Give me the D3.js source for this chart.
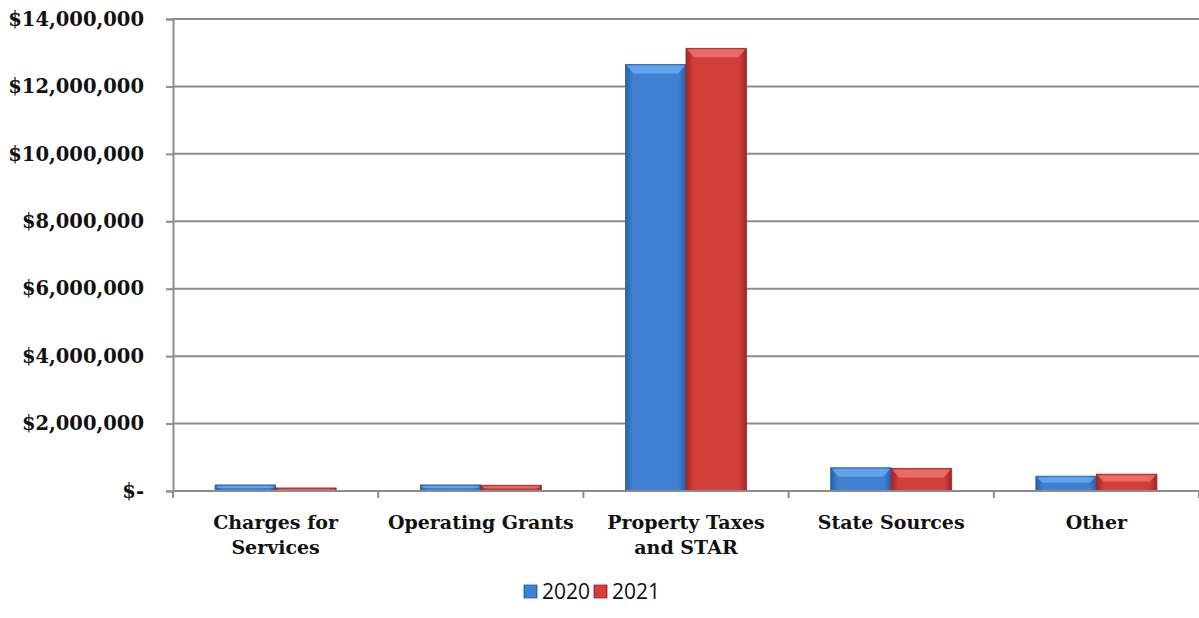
<!DOCTYPE html>
<html>
<head>
<meta charset="utf-8">
<script src="https://cdn.jsdelivr.net/npm/d3@7"></script>
<style>
  body { margin: 0; background: #fff; }
  .y-axis text { font-family: "DejaVu Serif", serif; font-weight: bold; font-size: 19.5px; fill: #111; }
  .cat-label { font-family: "DejaVu Serif", serif; font-weight: bold; font-size: 19px; fill: #111; }
  .legend text { font-family: "Open Sans", sans-serif; font-size: 21px; fill: #111; }
</style>
</head>
<body>
<div id="chart-area"></div>
<script>
var categories = ["Charges for|Services", "Operating Grants", "Property Taxes|and STAR", "State Sources", "Other"];
var seriesNames = ["2020", "2021"];
var values2020 = [180000, 180000, 12650000, 690000, 440000];
var values2021 = [90000, 170000, 13130000, 670000, 500000];
var yTicks = [0, 2000000, 4000000, 6000000, 8000000, 10000000, 12000000, 14000000];

var W = 1199, H = 618;
var margin = { left: 173, right: 0, top: 19, bottom: 127 };
var width = W - margin.left - margin.right;
var height = H - margin.top - margin.bottom;

var colors = {
    "2020": { base: "#3f80d2", dark: "#2a5fa8", light: "#6fb0f0" },
    "2021": { base: "#d23e3a", dark: "#9e2623", light: "#f07a76" }
};

var svg = d3.select("#chart-area").append("svg")
    .attr("width", W)
    .attr("height", H);

var defs = svg.append("defs");
seriesNames.forEach(function (s) {
    var c = colors[s];
    var gr = defs.append("linearGradient")
        .attr("id", "grad" + s)
        .attr("x1", "0%").attr("x2", "100%").attr("y1", "0%").attr("y2", "0%");
    gr.append("stop").attr("offset", "0%").attr("stop-color", c.dark);
    gr.append("stop").attr("offset", "12%").attr("stop-color", c.base);
    gr.append("stop").attr("offset", "88%").attr("stop-color", c.base);
    gr.append("stop").attr("offset", "100%").attr("stop-color", c.dark);
});

var g = svg.append("g")
    .attr("transform", "translate(" + margin.left + ", " + margin.top + ")");

var y = d3.scaleLinear()
    .domain([0, 14000000])
    .range([height, 0]);

var x = d3.scaleBand()
    .domain(categories)
    .range([0, width]);

var xs = d3.scaleBand()
    .domain(seriesNames)
    .range([0, x.bandwidth() * 0.59])
    .padding(0);

// gridlines
g.append("g")
    .selectAll("line")
    .data(yTicks.slice(1))
    .enter().append("line")
    .attr("x1", 0).attr("x2", width)
    .attr("y1", function (d) { return y(d); })
    .attr("y2", function (d) { return y(d); })
    .attr("stroke", "#8c8c8c")
    .attr("stroke-width", 2);

// y axis
var yAxis = d3.axisLeft(y)
    .tickValues(yTicks)
    .tickSize(7)
    .tickPadding(22)
    .tickFormat(function (d) { return d === 0 ? "$-" : "$" + d3.format(",")(d); });
var yaxg = g.append("g").attr("class", "y-axis").call(yAxis);
yaxg.select(".domain").attr("stroke", "#8c8c8c").attr("stroke-width", 2);
yaxg.selectAll(".tick line").attr("stroke", "#8c8c8c").attr("stroke-width", 2);

// bars
var rows = categories.map(function (c, i) {
    return { cat: c, vals: [
        { s: "2020", v: values2020[i] },
        { s: "2021", v: values2021[i] }
    ] };
});

var groups = g.selectAll(".grp").data(rows).enter().append("g")
    .attr("class", "grp")
    .attr("transform", function (d) {
        return "translate(" + (x(d.cat) + x.bandwidth() * 0.205) + ",0)";
    });

var bars = groups.selectAll(".bar").data(function (d) { return d.vals; }).enter().append("g")
    .attr("class", "bar");

bars.append("rect")
    .attr("x", function (d) { return xs(d.s); })
    .attr("y", function (d) { return y(d.v); })
    .attr("width", xs.bandwidth())
    .attr("height", function (d) { return height - y(d.v); })
    .attr("fill", function (d) { return "url(#grad" + d.s + ")"; })
    .attr("stroke", function (d) { return colors[d.s].dark; })
    .attr("stroke-width", 0.8);

// top bevel highlight
bars.append("path")
    .attr("d", function (d) {
        var x0 = xs(d.s), x1 = x0 + xs.bandwidth();
        var top = y(d.v) + 1;
        var h = Math.min(8, (height - top) * 0.4);
        var inset = Math.min(7, h);
        return "M" + (x0 + 1) + "," + top + "L" + (x1 - 1) + "," + top +
            "L" + (x1 - 1 - inset) + "," + (top + h) + "L" + (x0 + 1 + inset) + "," + (top + h) + "Z";
    })
    .attr("fill", function (d) { return colors[d.s].light; })
    .attr("opacity", 0.75);

// x axis
var xaxg = g.append("g").attr("transform", "translate(0," + height + ")");
xaxg.append("line")
    .attr("x1", 0).attr("x2", width)
    .attr("stroke", "#8c8c8c").attr("stroke-width", 2);
var ticksX = categories.map(function (c) { return x(c); }).concat([width]);
xaxg.selectAll(".xt").data(ticksX).enter().append("line")
    .attr("class", "xt")
    .attr("x1", function (d) { return d; }).attr("x2", function (d) { return d; })
    .attr("y1", 0).attr("y2", 7)
    .attr("stroke", "#8c8c8c").attr("stroke-width", 2);

var labels = xaxg.selectAll(".cat-label").data(categories).enter().append("text")
    .attr("class", "cat-label")
    .attr("text-anchor", "middle")
    .attr("x", function (d) { return x(d) + x.bandwidth() / 2; })
    .attr("y", 38);
labels.each(function (d) {
    var parts = d.split("|");
    var t = d3.select(this);
    parts.forEach(function (p, i) {
        t.append("tspan")
            .attr("x", x(d) + x.bandwidth() / 2)
            .attr("dy", i === 0 ? 0 : 25)
            .text(p);
    });
});

// legend
var legend = svg.append("g").attr("class", "legend")
    .attr("transform", "translate(524, 585)");
var li = legend.selectAll(".li").data(seriesNames).enter().append("g")
    .attr("transform", function (d, i) { return "translate(" + (i * 70) + ",0)"; });
li.append("rect")
    .attr("width", 13).attr("height", 13)
    .attr("fill", function (d) { return "url(#grad" + d + ")"; })
    .attr("stroke", function (d) { return colors[d].dark; })
    .attr("stroke-width", 0.8);
li.append("text")
    .attr("x", 18).attr("y", 14)
    .text(function (d) { return d; });
</script>
</body>
</html>
